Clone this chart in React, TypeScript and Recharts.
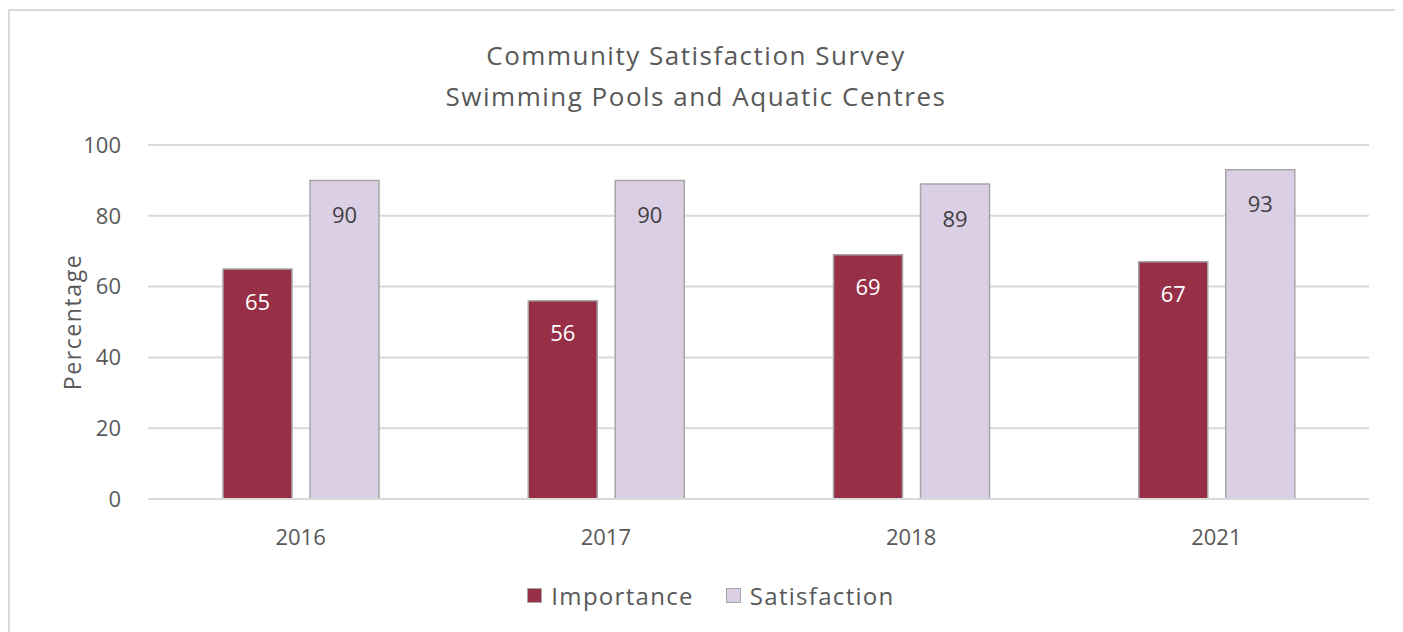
import React from 'react';
import { BarChart, Bar, XAxis, YAxis, CartesianGrid, LabelList } from 'recharts';

const years = ['2016', '2017', '2018', '2021'];
const importance = [65, 56, 69, 67];
const satisfaction = [90, 90, 89, 93];
const yTicks = [0, 20, 40, 60, 80, 100];

const FONT = '"Open Sans", sans-serif';
const TEXT = '#595959';

const data = years.map((y, i) => ({
  year: y,
  importance: importance[i],
  satisfaction: satisfaction[i],
}));

const YLabel = (props: any) => {
  const vb = props.viewBox || {};
  const cx = 62;
  const cy = vb.y + vb.height / 2;
  return (
    <text x={cx} y={cy} transform={`rotate(-90, ${cx}, ${cy})`} textAnchor="middle" dominantBaseline="central"
      fill={TEXT} fontSize={23} letterSpacing={1.6} fontFamily={FONT}>
      Percentage
    </text>
  );
};

const LegendItem = ({ color, label }: { color: string; label: string }) => (
  <div style={{ display: 'flex', alignItems: 'center' }}>
    <span style={{ width: 13, height: 13, background: color, border: '1.5px solid #a6a6a6', marginRight: 9 }} />
    <span>{label}</span>
  </div>
);

export default function App() {
  return (
    <div style={{ position: 'relative', marginTop: 1, width: 1387, height: 630, border: '2px solid #d9d9d9', fontFamily: FONT, color: TEXT }}>
      <div style={{ position: 'absolute', left: 0, top: 24, width: 1372, textAlign: 'center', fontSize: 26, lineHeight: '41px', letterSpacing: 1.5 }}>
        <div>Community Satisfaction Survey</div>
        <div>Swimming Pools and Aquatic Centres</div>
      </div>
      <BarChart width={1387} height={625} data={data}
        margin={{ top: 134, right: 28, left: 0, bottom: 107 }}
        barCategoryGap={75} barGap={18}>
        <CartesianGrid vertical={false} stroke="#d9d9d9" strokeWidth={2} />
        <XAxis dataKey="year" height={30} axisLine={{ stroke: '#d9d9d9', strokeWidth: 2 }} tickLine={false}
          tickMargin={24} tick={{ fill: TEXT, fontSize: 22, fontFamily: FONT }} />
        <YAxis width={138} domain={[0, 100]} ticks={yTicks} axisLine={false} tickLine={false}
          tickMargin={21} tick={{ fill: TEXT, fontSize: 22, fontFamily: FONT }}
          label={<YLabel />} />
        <Bar dataKey="importance" fill="#972f47" stroke="#a6a6a6" strokeWidth={1.5} isAnimationActive={false}>
          <LabelList dataKey="importance" position="insideTop" offset={25} fill="#ffffff" fontSize={22} fontFamily={FONT} />
        </Bar>
        <Bar dataKey="satisfaction" fill="#dbcfe5" stroke="#a6a6a6" strokeWidth={1.5} isAnimationActive={false}>
          <LabelList dataKey="satisfaction" position="insideTop" offset={27} fill="#404040" fontSize={22} fontFamily={FONT} />
        </Bar>
      </BarChart>
      <div style={{ position: 'absolute', left: 0, top: 568, width: 1402, display: 'flex', justifyContent: 'center', gap: 32, fontSize: 24, letterSpacing: 1.3 }}>
        <LegendItem color="#972f47" label="Importance" />
        <LegendItem color="#dbcfe5" label="Satisfaction" />
      </div>
    </div>
  );
}
